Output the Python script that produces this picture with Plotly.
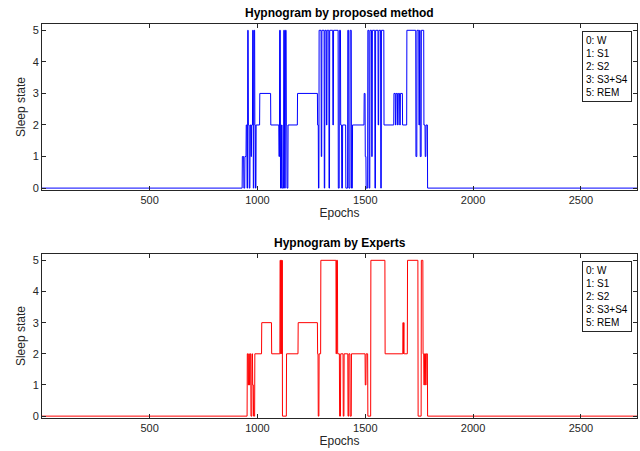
import numpy as np
import plotly.graph_objects as go
from plotly.subplots import make_subplots

N_EPOCHS = 2760

# Proposed method: run starts (epoch) and sleep states
prop_start = [1, 930, 937, 942, 948, 952, 955, 958, 962, 966, 970, 973, 978, 981, 984, 988, 991, 994,
              1011, 1062, 1100, 1103, 1107, 1112, 1115, 1122, 1126, 1130, 1134, 1137, 1142, 1186,
              1279, 1283, 1286, 1296, 1299, 1310, 1313, 1320, 1323, 1332, 1335, 1350, 1353, 1375,
              1380, 1386, 1391, 1395, 1410, 1419, 1424, 1430, 1436, 1441, 1495, 1500, 1504, 1512,
              1518, 1522, 1530, 1533, 1545, 1548, 1560, 1563, 1572, 1575, 1587, 1633, 1640, 1643,
              1650, 1653, 1660, 1663, 1673, 1693, 1735, 1740, 1749, 1752, 1755, 1760, 1772, 1778, 1782, 1789]
prop_state = [0, 1, 0, 1, 2, 0, 5, 2, 0, 2, 1, 2, 5, 0, 5, 2, 0, 2,
              3, 2, 1, 5, 0, 2, 0, 5, 0, 5, 2, 0, 2, 3,
              2, 0, 5, 1, 5, 0, 5, 2, 5, 0, 5, 2, 5, 0,
              5, 2, 0, 2, 0, 5, 0, 5, 0, 2, 3, 1, 0, 5,
              0, 5, 1, 5, 0, 5, 2, 5, 0, 5, 2, 3, 2, 3,
              2, 3, 2, 3, 2, 5, 1, 5, 2, 5, 1, 5, 2, 1, 2, 0]

# Experts: run starts (epoch) and sleep states
exp_start = [1, 953, 957, 960, 963, 966, 970, 975, 978, 982, 988, 1020, 1066, 1105, 1108, 1110, 1113,
             1114, 1116, 1135, 1189, 1279, 1282, 1286, 1294, 1365, 1367, 1372, 1381, 1386, 1398, 1402,
             1420, 1424, 1430, 1436, 1500, 1504, 1512, 1526, 1592, 1675, 1677, 1678, 1680, 1696,
             1745, 1760, 1768, 1772, 1775, 1780, 1783, 1789]
exp_state = [0, 2, 1, 2, 1, 2, 0, 2, 1, 0, 2, 3, 2, 5, 2, 5, 2,
             5, 0, 2, 3, 2, 0, 2, 5, 2, 5, 2, 0, 2, 0, 2,
             0, 2, 0, 2, 1, 2, 0, 5, 2, 3, 2, 3, 2, 5,
             0, 5, 2, 1, 2, 1, 2, 0]

x_ticks = [500, 1000, 1500, 2000, 2500]
y_ticks = [0, 1, 2, 3, 4, 5]
legend_text = ["0: W", "1: S1", "2: S2", "3: S3+S4", "5: REM"]
titles = ["Hypnogram by proposed method", "Hypnogram by Experts"]


def expand(starts, states, n):
    out = np.zeros(n)
    bounds = list(starts) + [n + 1]
    for i, s in enumerate(states):
        out[bounds[i] - 1:bounds[i + 1] - 1] = s
    return out


epochs = np.arange(1, N_EPOCHS + 1)
y_prop = expand(prop_start, prop_state, N_EPOCHS)
y_exp = expand(exp_start, exp_state, N_EPOCHS)

FONT = "Liberation Sans"
fig = make_subplots(rows=2, cols=1, vertical_spacing=0.16)
fig.add_trace(go.Scatter(x=epochs, y=y_prop, mode="lines",
                         line=dict(color="#0000ff", width=1)), row=1, col=1)
fig.add_trace(go.Scatter(x=epochs, y=y_exp, mode="lines",
                         line=dict(color="#ff0000", width=1)), row=2, col=1)

axis_common = dict(showgrid=False, zeroline=False, showline=True, linecolor="#262626",
                   linewidth=1, mirror="ticks", ticks="inside", ticklen=4,
                   tickcolor="#262626", tickfont=dict(family=FONT, size=11, color="#262626"))

for r, dom in [(1, [0.5787, 1.0]), (2, [0.0, 0.416])]:
    fig.update_xaxes(range=[1, N_EPOCHS], tickvals=x_ticks,
                     title=dict(text="Epochs", standoff=2,
                                font=dict(family=FONT, size=12, color="#262626")),
                     row=r, col=1, **axis_common)
    fig.update_yaxes(range=[-0.06, 5.2], tickvals=y_ticks, domain=dom,
                     title=dict(text="Sleep state", standoff=4,
                                font=dict(family=FONT, size=12, color="#262626")),
                     row=r, col=1, **axis_common)

annotations = []
for i, (t, yref) in enumerate(zip(titles, ["y domain", "y2 domain"])):
    annotations.append(dict(text="<b>" + t + "</b>", x=0.5, xref="x domain" if i == 0 else "x2 domain",
                            y=1.0, yref=yref, yanchor="bottom", yshift=2, showarrow=False,
                            font=dict(family=FONT, size=12, color="black")))
    annotations.append(dict(text="<br>".join(legend_text), align="left",
                            x=0.992, xref="x domain" if i == 0 else "x2 domain", xanchor="right",
                            y=0.955, yref=yref, yanchor="top", showarrow=False,
                            bordercolor="#262626", borderwidth=1, borderpad=3, bgcolor="white",
                            font=dict(family=FONT, size=10, color="black")))

fig.update_layout(width=640, height=451, margin=dict(l=42, r=3, t=24, b=33, autoexpand=False),
                  paper_bgcolor="white", plot_bgcolor="white", showlegend=False,
                  annotations=annotations)

fig.write_html("out.html", config={"displayModeBar": False},
               post_script="document.body.style.margin='0';document.body.style.overflow='hidden';")
